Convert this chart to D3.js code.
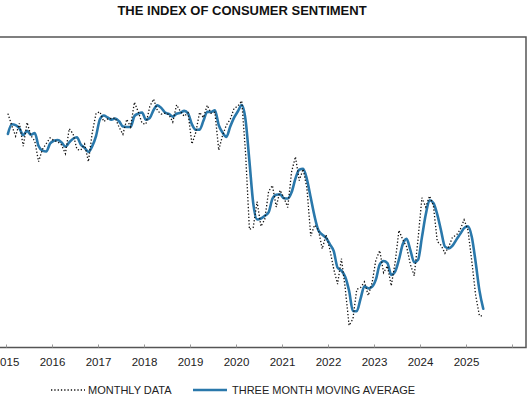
<!DOCTYPE html>
<html>
<head>
<meta charset="utf-8">
<script src="https://cdn.jsdelivr.net/npm/d3@7"></script>
<style>
  html, body { margin: 0; padding: 0; background: #fff; }
  svg { display: block; }
  text { font-family: "Liberation Sans", Arial, sans-serif; }
</style>
</head>
<body>
<svg id="chart" width="532" height="399"></svg>
<script>
// ---- data (Jan 2015 .. May 2025, monthly) ----
const chartTitle = "THE INDEX OF CONSUMER SENTIMENT";
const startYear = 2015;
const tickYears = [2015, 2016, 2017, 2018, 2019, 2020, 2021, 2022, 2023, 2024, 2025, 2026];
const tickLabels = ["2015", "2016", "2017", "2018", "2019", "2020", "2021", "2022", "2023", "2024", "2025", ""];
const seriesNames = ["MONTHLY DATA", "THREE MONTH MOVING AVERAGE"];

const monthlyData = [
  98.1, 95.4, 93.0, 95.9, 90.7, 96.1, 93.1, 91.9, 87.2, 90.0, 91.3, 92.6,
  92.0, 91.7, 91.0, 89.0, 94.7, 93.5, 90.0, 89.8, 91.2, 87.2, 93.8, 98.2,
  98.5, 96.3, 96.9, 97.0, 97.1, 95.0, 93.4, 96.8, 95.1, 100.7, 98.5, 95.9,
  95.7, 99.7, 101.4, 98.8, 98.0, 98.2, 97.9, 96.2, 100.1, 98.6, 97.5, 98.3,
  91.2, 93.8, 98.4, 97.2, 100.0, 98.2, 98.4, 89.8, 93.2, 95.5, 96.8, 99.3,
  99.8, 101.0, 89.1, 71.8, 72.3, 78.1, 72.5, 74.1, 80.4, 81.8, 76.9, 80.7,
  79.0, 76.8, 84.9, 88.3, 82.9, 85.5, 81.2, 70.3, 72.8, 71.7, 67.4, 70.6,
  67.2, 62.8, 59.4, 65.2, 58.4, 50.0, 51.5, 58.2, 58.6, 59.9, 56.8, 59.7,
  64.9, 67.0, 62.0, 63.5, 59.0, 64.2, 71.6, 69.5, 67.9, 63.8, 61.3, 69.7,
  79.0, 76.9, 79.4, 77.2, 69.1, 68.2, 66.4, 67.9, 70.1, 70.5, 71.8, 74.0,
  71.7, 64.7, 57.0, 52.2, 52.2
];

const movingAverage = [
  93.50, 95.70, 95.50, 94.77, 93.20, 94.23, 93.30, 93.70, 90.73, 89.70, 89.50, 91.30,
  91.97, 92.10, 91.57, 90.57, 91.57, 92.40, 92.73, 91.10, 90.33, 89.40, 90.73, 93.07,
  96.83, 97.67, 97.23, 96.73, 97.00, 96.37, 95.17, 95.07, 95.10, 97.53, 98.10, 98.37,
  96.70, 97.10, 98.93, 99.97, 99.40, 98.33, 98.03, 97.43, 98.07, 98.30, 98.73, 98.13,
  95.67, 94.43, 94.47, 96.47, 98.53, 98.47, 98.87, 95.47, 93.80, 92.83, 95.17, 97.20,
  98.63, 100.03, 96.63, 87.30, 77.73, 74.07, 74.30, 74.90, 75.67, 78.77, 79.70, 79.80,
  78.87, 78.83, 80.23, 83.33, 85.37, 85.57, 83.20, 79.00, 74.77, 71.60, 70.63, 69.90,
  68.40, 66.87, 63.13, 62.47, 61.00, 57.87, 53.30, 53.23, 56.10, 58.90, 58.43, 58.80,
  60.47, 63.87, 64.63, 64.17, 61.50, 62.23, 64.93, 68.43, 69.67, 67.07, 64.33, 64.93,
  70.00, 75.20, 78.43, 77.83, 75.23, 71.50, 67.90, 67.50, 68.13, 69.50, 70.80, 72.10,
  72.50, 70.13, 64.47, 57.97, 53.80
];

// ---- layout ----
const svg = d3.select("#chart");
const frame = { left: -20, right: 526, top: 37, bottom: 347.5 };

const x = d3.scaleLinear().domain([2015, 2026]).range([6, 512]);
const y = d3.scaleLinear().domain([45, 115.5]).range([347.5, 37]);

const monthX = i => x(startYear + (i + 0.5) / 12);

// title
svg.append("text")
  .attr("x", 242).attr("y", 14.5)
  .attr("text-anchor", "middle")
  .style("font-size", "13px").style("font-weight", "bold").style("fill", "#111")
  .text(chartTitle);

// frame
svg.append("rect")
  .attr("x", frame.left).attr("y", frame.top)
  .attr("width", frame.right - frame.left).attr("height", frame.bottom - frame.top)
  .attr("fill", "none").attr("stroke", "#555").attr("stroke-width", 1.5);

// x axis
const axis = d3.axisBottom(x)
  .tickValues(tickYears)
  .tickFormat((d, i) => tickLabels[i])
  .tickSizeInner(-3).tickSizeOuter(0).tickPadding(10.5);
const gx = svg.append("g").attr("transform", `translate(0,${frame.bottom})`).call(axis);
gx.select(".domain").remove();
gx.selectAll(".tick line").attr("stroke", "#999").attr("stroke-width", 1);
gx.selectAll(".tick text")
  .style("font-family", "'Liberation Sans', Arial, sans-serif")
  .style("font-size", "11.5px").style("fill", "#222");

// lines
const lineMonthly = d3.line().x((d, i) => monthX(i)).y(d => y(d));
const lineAvg = d3.line().x((d, i) => monthX(i)).y(d => y(d)).curve(d3.curveMonotoneX);

svg.append("path").datum(movingAverage)
  .attr("d", lineAvg).attr("fill", "none")
  .attr("stroke", "#2a78ab").attr("stroke-width", 2.6)
  .attr("stroke-linejoin", "round").attr("stroke-linecap", "round");

svg.append("path").datum(monthlyData)
  .attr("d", lineMonthly).attr("fill", "none")
  .attr("stroke", "#111").attr("stroke-width", 1.3)
  .attr("stroke-dasharray", "1.3,2");

// legend
const legend = svg.append("g");
legend.append("line").attr("x1", 51).attr("x2", 85).attr("y1", 390).attr("y2", 390)
  .attr("stroke", "#111").attr("stroke-width", 1.3).attr("stroke-dasharray", "1.3,2");
legend.append("text").attr("x", 88).attr("y", 394)
  .style("font-size", "11px").style("fill", "#222").text(seriesNames[0]);
legend.append("line").attr("x1", 193).attr("x2", 227).attr("y1", 390).attr("y2", 390)
  .attr("stroke", "#2a78ab").attr("stroke-width", 2.6);
legend.append("text").attr("x", 232).attr("y", 394)
  .style("font-size", "11px").style("fill", "#222").text(seriesNames[1]);
</script>
</body>
</html>
